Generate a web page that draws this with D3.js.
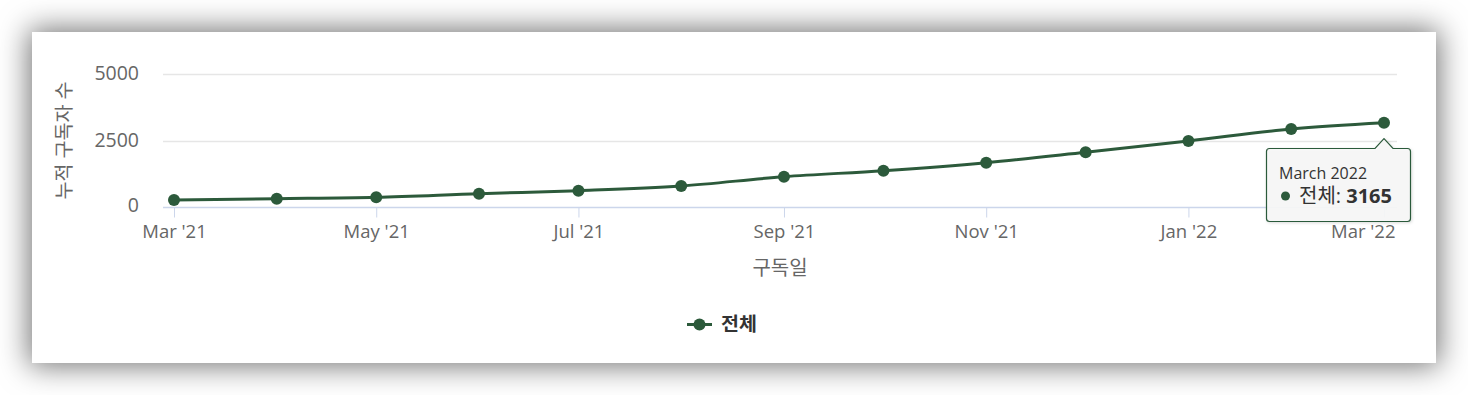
<!DOCTYPE html>
<html><head><meta charset="utf-8">
<script src="https://cdn.jsdelivr.net/npm/d3@7"></script>
<style>
html,body{margin:0;padding:0;background:#fff;width:1468px;height:395px;overflow:hidden;}
#card{position:absolute;left:32px;top:32px;width:1404px;height:331px;background:#fff;box-shadow:0 0 28px 3px rgba(0,0,0,0.55);}
svg{position:absolute;left:0;top:0;}
text{font-family:"Open Sans","Noto Sans","Noto Sans CJK KR",sans-serif;}
</style></head>
<body>
<div id="card"></div>
<svg id="chart" width="1468" height="395"></svg>
<script>
const months = ["2021-03","2021-04","2021-05","2021-06","2021-07","2021-08","2021-09","2021-10","2021-11","2021-12","2022-01","2022-02","2022-03"];
const subscribers = [280,328,380,515,627,802,1150,1373,1672,2060,2481,2929,3165];
const yTicks = [0,2500,5000];
const xTickMonths = ["2021-03","2021-05","2021-07","2021-09","2021-11","2022-01","2022-03"];
const seriesName = "전체";
const yTitle = "누적 구독자 수";
const xTitle = "구독일";
const tooltipHeader = "March 2022";

const color = "#2c5a3b";
const parse = d3.timeParse("%Y-%m");
const data = months.map((m,i)=>({date:parse(m), value:subscribers[i]}));

const plotL = 163, plotR = 1397, plotT = 73.5, plotB = 207.5;
const x = d3.scaleTime().domain([parse("2021-03"), parse("2022-03")]).range([174, 1384]);
const y = d3.scaleLinear().domain([0,5000]).range([plotB, plotT]);

const svg = d3.select("#chart");

// grid
svg.append("g").selectAll("line").data(yTicks.filter(d=>d>0)).join("line")
  .attr("x1",plotL).attr("x2",plotR)
  .attr("y1",d=>Math.round(y(d))+0.5).attr("y2",d=>Math.round(y(d))+0.5)
  .attr("stroke","#e6e6e6").attr("stroke-width",1.5);

// y labels
svg.append("g").selectAll("text").data(yTicks).join("text")
  .attr("x",139).attr("y",d=>y(d)+(d===0?4.5:6))
  .attr("text-anchor","end").attr("font-size","19.5px").attr("fill","#666")
  .text(d=>d);

// x axis
const xAxis = d3.axisBottom(x)
  .tickValues(xTickMonths.map(parse))
  .tickFormat(d3.timeFormat("%b '%y"))
  .tickSize(10).tickSizeOuter(0);
const gx = svg.append("g").attr("transform",`translate(0,${plotB})`).call(xAxis);
gx.select(".domain").remove();
gx.selectAll(".tick line").attr("stroke","#ccd6eb");
gx.selectAll(".tick text").attr("font-size","18.5px").attr("fill","#666")
  .attr("font-family",'"Open Sans","Noto Sans",sans-serif').attr("dy",0).attr("y",30);
// justify last label inside plot area
gx.selectAll(".tick text").filter((d,i,n)=>i===n.length-1)
  .attr("text-anchor","end").attr("x",plotR - 2 - x(parse("2022-03")));
svg.append("line").attr("x1",plotL).attr("x2",plotR).attr("y1",plotB).attr("y2",plotB)
  .attr("stroke","#ccd6eb").attr("stroke-width",1.5);

// titles
svg.append("text").attr("transform",`translate(71,${(plotT+plotB)/2}) rotate(-90)`)
  .attr("text-anchor","middle").attr("font-size","19.5px").attr("fill","#666").text(yTitle);
svg.append("text").attr("x",(plotL+plotR)/2).attr("y",275)
  .attr("text-anchor","middle").attr("font-size","20px").attr("fill","#666").text(xTitle);

// line
const line = d3.line().x(d=>x(d.date)).y(d=>y(d.value)).curve(d3.curveMonotoneX);
svg.append("path").datum(data).attr("d",line)
  .attr("fill","none").attr("stroke",color).attr("stroke-width",3);
svg.append("g").selectAll("circle").data(data).join("circle")
  .attr("cx",d=>x(d.date)).attr("cy",d=>y(d.value)).attr("r",6).attr("fill",color);

// legend
const lg = svg.append("g");
lg.append("line").attr("x1",687).attr("x2",712).attr("y1",324.5).attr("y2",324.5).attr("stroke",color).attr("stroke-width",3);
lg.append("circle").attr("cx",699.5).attr("cy",324.5).attr("r",6).attr("fill",color);
lg.append("text").attr("x",721).attr("y",331).attr("font-size","19.5px").attr("font-weight","bold").attr("fill","#333").text(seriesName);

// tooltip
const last = data[data.length-1];
const px = x(last.date), py = y(last.value);
const bx0 = 1266.5, bx1 = 1410.5, by0 = 148.5, by1 = 221.5, r = 3;
const tipPath = `M${bx0+r},${by0} L${px-9},${by0} L${px},${py+16} L${px+9},${by0} L${bx1-r},${by0} Q${bx1},${by0} ${bx1},${by0+r} L${bx1},${by1-r} Q${bx1},${by1} ${bx1-r},${by1} L${bx0+r},${by1} Q${bx0},${by1} ${bx0},${by1-r} L${bx0},${by0+r} Q${bx0},${by0} ${bx0+r},${by0} Z`;
const defs = svg.append("defs");
const f = defs.append("filter").attr("id","tshadow").attr("x","-20%").attr("y","-20%").attr("width","140%").attr("height","150%");
f.append("feDropShadow").attr("dx",1).attr("dy",1).attr("stdDeviation",1.5).attr("flood-color","#000").attr("flood-opacity",0.15);
const tg = svg.append("g");
tg.append("path").attr("d",tipPath).attr("fill","#f7f7f7").attr("fill-opacity",0.92)
  .attr("stroke",color).attr("stroke-width",1.2).attr("filter","url(#tshadow)");
tg.append("text").attr("x",1279).attr("y",179).attr("font-size","16px").attr("fill","#333").text(tooltipHeader);
tg.append("circle").attr("cx",1285.5).attr("cy",196).attr("r",4.5).attr("fill",color);
const t2 = tg.append("text").attr("x",1299).attr("y",202.5).attr("font-size","20px").attr("fill","#333");
t2.append("tspan").text(seriesName + ": ");
t2.append("tspan").attr("font-weight","bold").text(last.value);
</script>
</body></html>
